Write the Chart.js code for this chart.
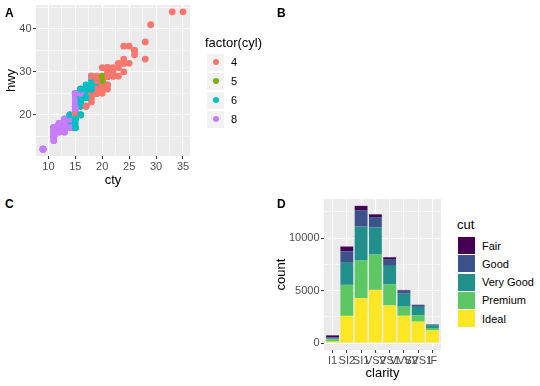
<!DOCTYPE html>
<html>
<head>
<meta charset="utf-8">
<script src="https://cdn.jsdelivr.net/npm/chart.js@4.4.1/dist/chart.umd.min.js"></script>
<style>
  body { margin: 0; background: #fff; font-family: "Liberation Sans", Arial, sans-serif; }
  #wrap { position: relative; width: 540px; height: 386px; overflow: hidden; }
  canvas { position: absolute; }
  .tag { position: absolute; font-weight: bold; font-size: 12px; line-height: 13px; color: #000; }
  .ltitle { position: absolute; font-size: 13px; line-height: 14px; color: #000; white-space: nowrap; }
  .ltext { position: absolute; font-size: 11px; line-height: 12px; color: #000; white-space: nowrap; }
  .key { position: absolute; }
</style>
</head>
<body>
<div id="wrap">
  <canvas id="chartA" width="200" height="193" style="left:0;top:0"></canvas>
  <canvas id="chartD" width="180" height="193" style="left:270px;top:193px"></canvas>
  <div class="tag" style="left:5px;top:7px">A</div>
  <div class="tag" style="left:277px;top:7px">B</div>
  <div class="tag" style="left:5px;top:198px">C</div>
  <div class="tag" style="left:277px;top:198px">D</div>
  <div id="legA"></div>
  <div id="legD"></div>
</div>
<script>
(function () {

  // mpg: city / highway mileage and cylinders, in row order
  var cty = [
    18,21,20,21,16,18,18,18,16,20,19,15,17,17,15,15,17,16,14,11,
    14,13,12,16,15,16,15,15,14,11,11,14,19,22,18,18,17,18,17,16,
    16,17,17,11,15,15,16,16,15,14,13,14,14,14,9,11,11,13,13,9,
    13,11,13,11,12,9,13,13,12,9,11,11,13,11,11,11,12,14,15,14,
    13,13,13,14,14,13,13,13,11,13,18,18,17,16,15,15,15,15,14,28,
    24,25,23,24,26,25,24,21,18,18,21,21,18,18,19,19,19,20,20,17,
    16,17,17,15,15,14,9,14,13,11,11,12,12,11,11,11,12,14,13,13,
    13,21,19,23,23,19,19,18,19,19,14,15,14,12,18,16,17,18,16,18,
    18,20,19,20,18,21,19,19,19,20,20,19,20,15,16,15,15,16,14,21,
    21,21,21,18,18,19,21,21,21,22,18,18,18,24,24,26,28,26,11,13,
    15,16,17,15,15,15,16,21,19,21,22,17,33,21,19,22,21,21,21,16,
    17,35,29,21,19,20,20,21,18,19,21,16,18,17
  ];
  var hwy = [
    29,29,31,30,26,26,27,26,25,28,27,25,25,25,25,24,25,23,20,15,
    20,17,17,26,23,26,25,24,19,14,15,17,27,30,26,29,26,24,24,22,
    22,24,24,17,22,21,23,23,19,18,17,17,19,19,12,17,15,17,17,12,
    17,16,18,15,16,12,17,17,16,12,15,16,17,15,17,17,18,17,19,17,
    19,19,17,17,17,16,16,17,15,17,26,25,26,24,21,22,23,22,20,33,
    32,32,29,32,34,36,36,29,26,27,30,31,26,26,28,26,29,28,27,24,
    24,24,22,19,20,17,12,19,18,14,15,18,18,15,17,16,18,17,19,19,
    17,29,27,31,32,27,26,26,25,25,17,17,20,18,26,26,27,28,25,25,
    24,27,25,26,23,26,26,26,26,25,27,25,27,20,20,19,17,20,17,29,
    27,31,31,26,26,28,27,29,31,31,26,26,27,30,33,35,37,35,15,18,
    20,20,22,17,19,18,20,29,26,29,29,24,44,29,26,29,29,29,29,23,
    24,44,41,29,26,28,29,29,29,28,29,26,26,26
  ];
  var cyl = [
    4,4,4,4,6,6,6,4,4,4,4,6,6,6,6,6,6,8,8,8,
    8,8,8,8,8,8,8,8,8,8,8,8,4,4,6,6,6,4,6,6,
    6,6,6,6,6,6,6,6,6,6,6,6,8,8,8,8,8,6,8,8,
    8,8,8,8,8,8,8,8,8,8,8,8,8,8,8,8,8,6,6,6,
    6,8,8,6,6,8,8,8,8,8,6,6,6,6,8,8,8,8,8,4,
    4,4,4,4,4,4,4,4,4,4,4,4,6,6,6,4,4,4,4,6,
    6,6,6,6,6,8,8,8,8,8,8,8,8,8,8,8,8,6,6,8,
    8,4,4,4,4,6,6,6,6,6,6,6,6,8,6,6,6,6,8,4,
    4,4,4,4,4,4,4,4,4,4,4,4,4,4,4,6,6,6,8,4,
    4,4,4,6,6,6,4,4,4,4,6,6,6,4,4,4,4,4,8,8,
    4,4,4,6,6,6,6,4,4,4,4,6,4,4,4,4,4,5,5,6,
    6,4,4,4,4,5,5,4,4,4,4,6,6,6
  ];
  var cylLevels = ['4', '5', '6', '8'];
  var cylColors = ['#F8766D', '#7CAE00', '#00BFC4', '#C77CFF'];

  // diamonds: counts per clarity for each cut
  var clarity = ['I1', 'SI2', 'SI1', 'VS2', 'VS1', 'VVS2', 'VVS1', 'IF'];
  var fair     = [210,  466,  408,  261,  170,   69,   17,    9];
  var good     = [ 96, 1081, 1560,  978,  648,  286,  186,   71];
  var veryGood = [ 84, 2100, 3240, 2591, 1775, 1235,  789,  268];
  var premium  = [205, 2949, 3575, 3357, 1989,  870,  616,  230];
  var ideal    = [146, 2598, 4282, 5071, 3589, 2606, 2047, 1212];
  var cutLevels = ['Fair', 'Good', 'Very Good', 'Premium', 'Ideal'];
  var cutColors = ['#440154', '#3B528B', '#21908C', '#5DC863', '#FDE725'];
  var cutCounts = [fair, good, veryGood, premium, ideal];

  // axis breaks
  var ctyMajor = [10, 15, 20, 25, 30, 35], ctyMinor = [12.5, 17.5, 22.5, 27.5, 32.5];
  var hwyMajor = [20, 30, 40], hwyMinor = [15, 25, 35, 45];
  var countMajor = [0, 5000, 10000], countMinor = [2500, 7500, 12500];
  var clarityPos = [1, 2, 3, 4, 5, 6, 7, 8];

  Chart.defaults.font.family = '"Liberation Sans", Arial, sans-serif';
  Chart.defaults.font.size = 11;
  Chart.defaults.color = '#4D4D4D';

  // grey panel behind the grid
  var panelBg = {
    id: 'panelBg',
    beforeDraw: function (chart) {
      var a = chart.chartArea, ctx = chart.ctx;
      ctx.save();
      ctx.fillStyle = '#EBEBEB';
      ctx.fillRect(a.left, a.top, a.right - a.left, a.bottom - a.top);
      ctx.restore();
    }
  };

  function isIn(list, c) {
    return c.tick !== undefined && list.indexOf(c.tick.value) >= 0;
  }

  // ggplot-like axis: white major + thin minor lines, ticks only on majors
  function ggAxis(min, max, major, minor, title, size, horizontal, label) {
    return {
      type: 'linear',
      min: min,
      max: max,
      bounds: 'data',
      offset: false,
      stacked: true,
      afterBuildTicks: function (s) {
        s.ticks = major.concat(minor).sort(function (a, b) { return a - b; })
          .map(function (v) { return { value: v }; });
      },
      afterFit: function (s) {
        if (horizontal) s.height = size; else s.width = size;
        s.paddingTop = 0; s.paddingBottom = 0; s.paddingLeft = 0; s.paddingRight = 0;
      },
      grid: {
        offset: false,
        color: '#FFFFFF',
        lineWidth: function (c) { return isIn(major, c) ? 1.1 : 0.55; },
        tickColor: function (c) { return isIn(major, c) ? '#333333' : 'rgba(0,0,0,0)'; },
        tickWidth: 1,
        tickLength: 3
      },
      border: { display: false },
      ticks: {
        autoSkip: false,
        maxRotation: 0,
        minRotation: 0,
        padding: 1.5,
        color: '#4D4D4D',
        callback: function (v) { return major.indexOf(v) >= 0 ? label(v) : ''; }
      },
      title: {
        display: true,
        text: title,
        color: '#000000',
        font: { size: 13 },
        padding: horizontal ? { top: 0, bottom: 5 } : { top: 4, bottom: 0 }
      }
    };
  }

  function plain(v) { return String(v); }

  // panel A
  var points = cty.map(function (x, i) { return { x: x, y: hwy[i] }; });
  var pointCols = cyl.map(function (c) { return cylColors[cylLevels.indexOf(String(c))]; });

  new Chart(document.getElementById('chartA'), {
    type: 'scatter',
    data: {
      datasets: [{
        data: points,
        pointBackgroundColor: pointCols,
        pointBorderWidth: 0,
        pointRadius: 3.4,
        pointHoverRadius: 3.4
      }]
    },
    options: {
      responsive: false,
      animation: false,
      events: [],
      layout: { padding: { left: 0, top: 5, right: 10, bottom: 0 } },
      plugins: { legend: { display: false }, tooltip: { enabled: false } },
      scales: {
        x: ggAxis(7.7, 36.3, ctyMajor, ctyMinor, 'cty', 37, true, plain),
        y: ggAxis(10.4, 45.6, hwyMajor, hwyMinor, 'hwy', 36, false, plain)
      }
    },
    plugins: [panelBg]
  });

  // panel D, Ideal at the bottom of each stack
  var barSets = [];
  for (var k = cutLevels.length - 1; k >= 0; k--) {
    barSets.push({
      label: cutLevels[k],
      data: cutCounts[k].map(function (v, j) { return { x: clarityPos[j], y: v }; }),
      backgroundColor: cutColors[k],
      borderWidth: 0,
      barPercentage: 0.9,
      categoryPercentage: 1.0
    });
  }

  new Chart(document.getElementById('chartD'), {
    type: 'bar',
    data: { datasets: barSets },
    options: {
      responsive: false,
      animation: false,
      events: [],
      layout: { padding: { left: 0, top: 6, right: 9, bottom: 0 } },
      plugins: { legend: { display: false }, tooltip: { enabled: false } },
      scales: {
        x: ggAxis(0.4, 8.6, clarityPos, [], 'clarity', 36, true, function (v) { return clarity[v - 1]; }),
        y: ggAxis(-653.25, 13718.25, countMajor, countMinor, 'count', 54, false, plain)
      }
    },
    plugins: [panelBg]
  });

  // legends
  var legA = document.getElementById('legA');
  var html = '<div class="ltitle" style="left:205px;top:36px">factor(cyl)</div>';
  var keyY = [62, 81, 100, 119];
  cylLevels.forEach(function (lv, i) {
    html += '<div class="key" style="left:207px;top:' + (keyY[i] - 8.5) + 'px;width:17px;height:17px;background:#F2F2F2"></div>';
    html += '<div class="key" style="left:' + (216 - 3.4) + 'px;top:' + (keyY[i] - 3.4) + 'px;width:6.8px;height:6.8px;border-radius:50%;background:' + cylColors[i] + '"></div>';
    html += '<div class="ltext" style="left:231px;top:' + (keyY[i] - 6) + 'px">' + lv + '</div>';
  });
  legA.innerHTML = html;

  var legD = document.getElementById('legD');
  html = '<div class="ltitle" style="left:457px;top:218px">cut</div>';
  cutLevels.forEach(function (lv, i) {
    var top = 237 + i * 18.3;
    html += '<div class="key" style="left:458px;top:' + top + 'px;width:17px;height:17px;background:' + cutColors[i] + '"></div>';
    html += '<div class="ltext" style="left:482px;top:' + (top + 8.5 - 6) + 'px">' + lv + '</div>';
  });
  legD.innerHTML = html;
})();
</script>
</body>
</html>
